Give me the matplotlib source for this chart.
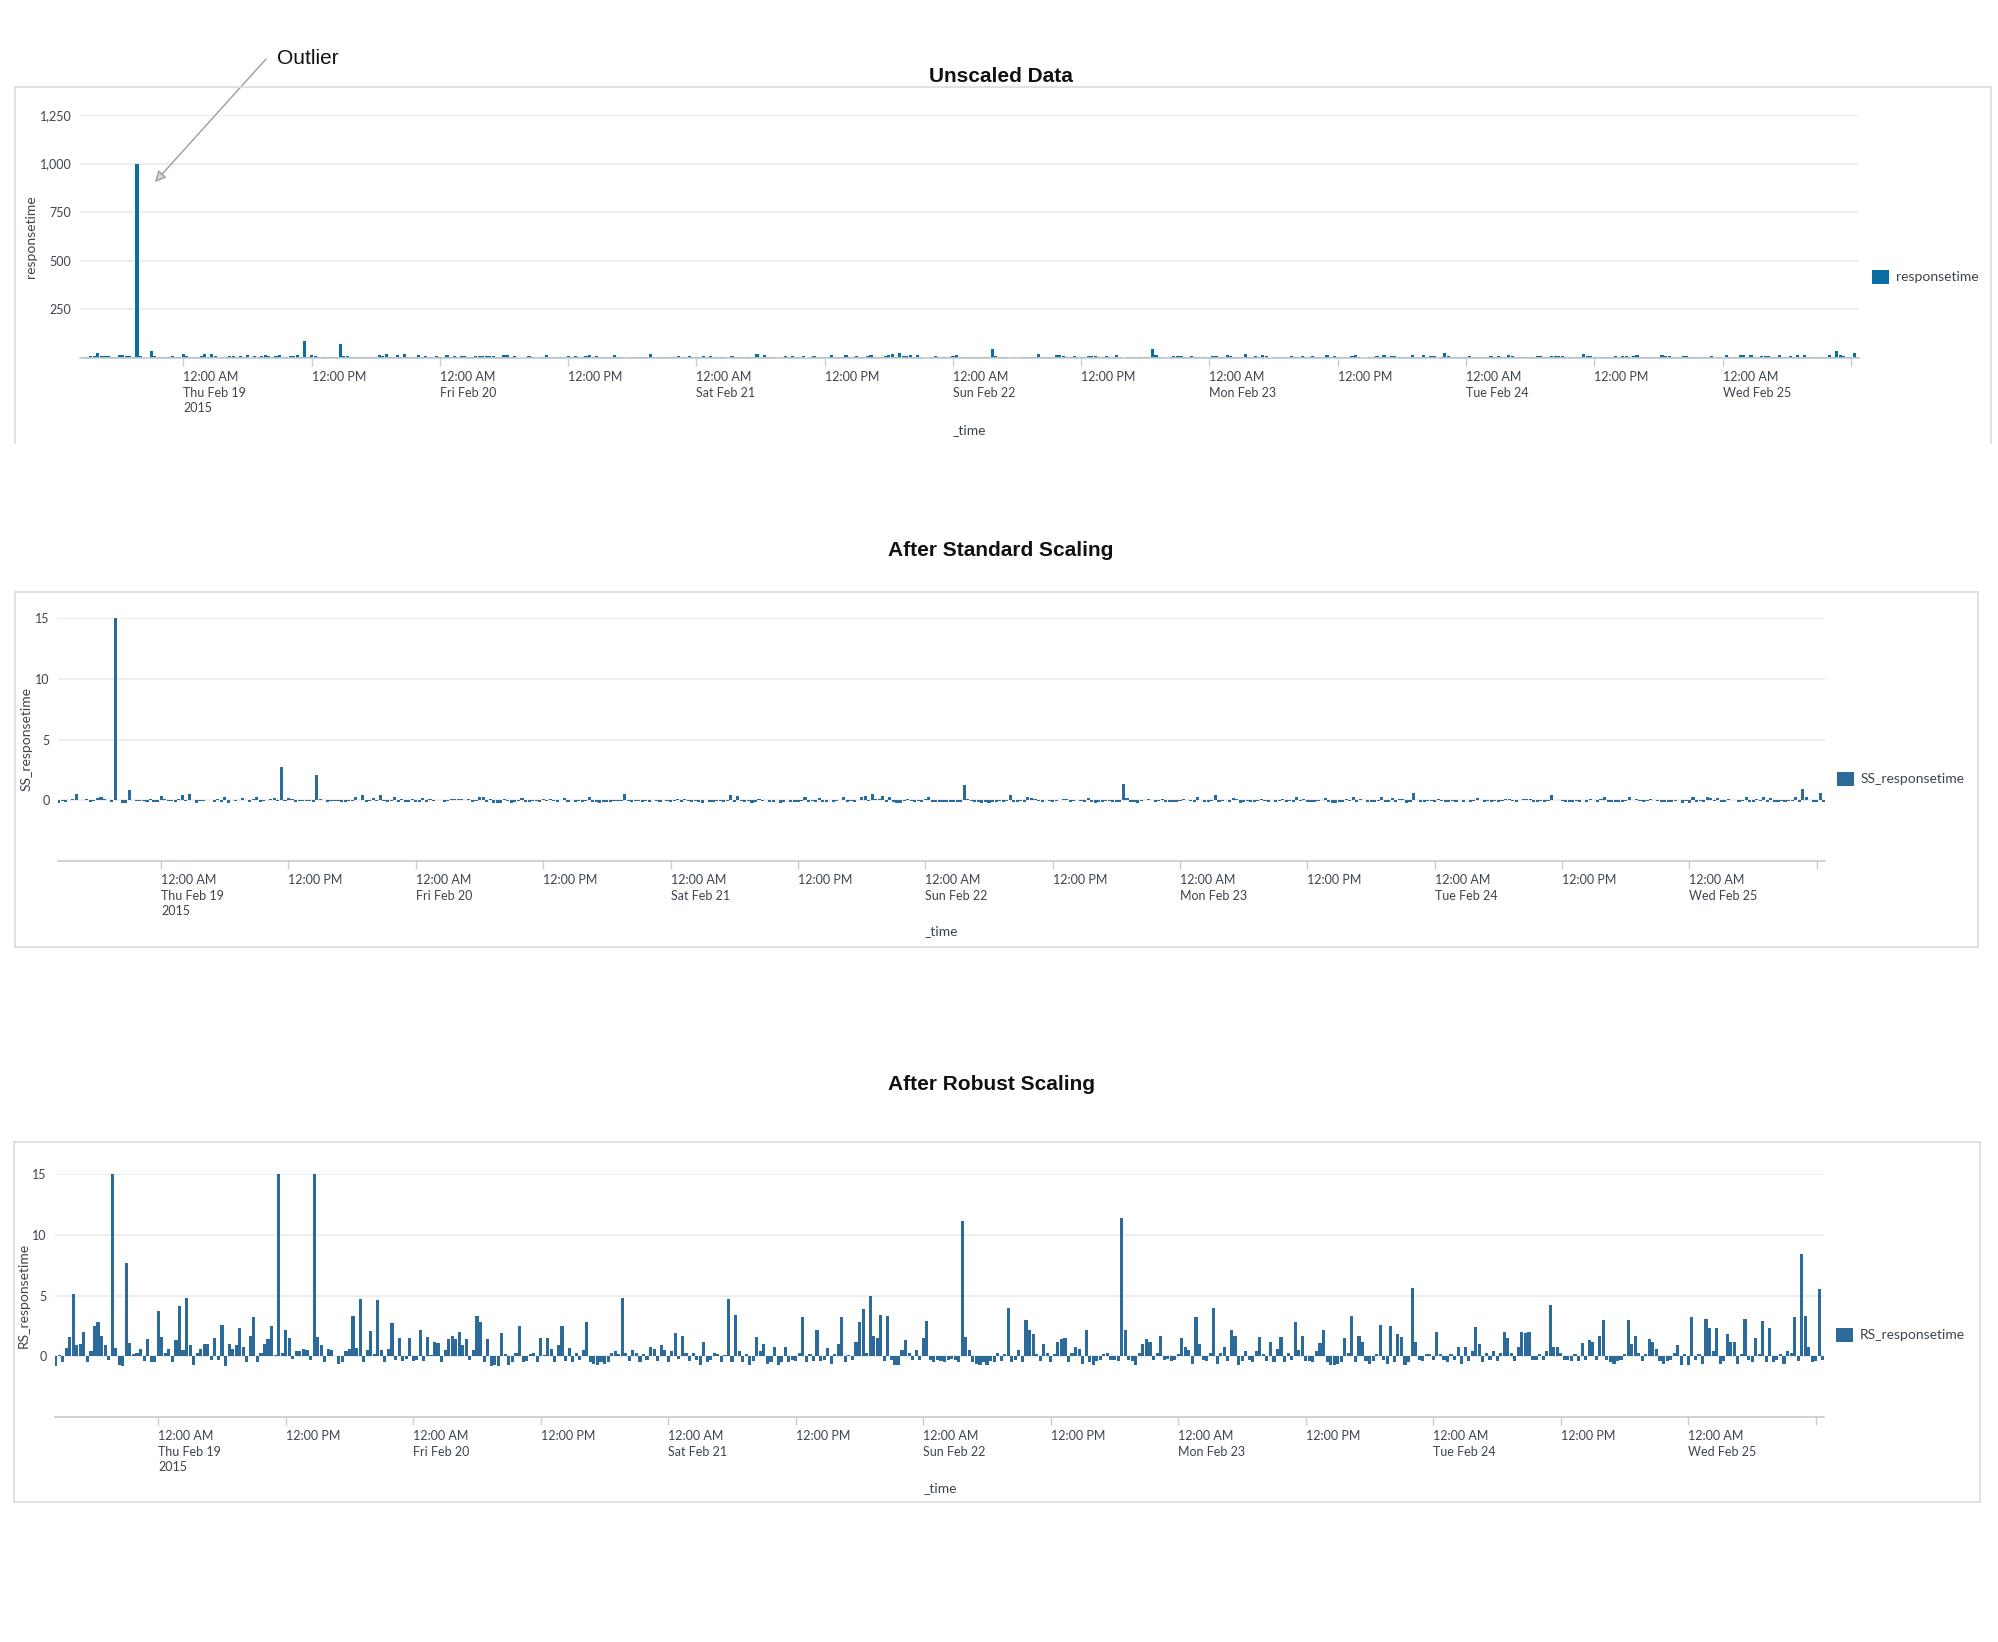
import datetime as dt
import matplotlib
matplotlib.use("Agg")
import matplotlib.pyplot as plt
import matplotlib.dates as mdates
from matplotlib.patches import Rectangle
from matplotlib.lines import Line2D
from matplotlib.ticker import FuncFormatter

# ---------------- data (20-minute bins starting Feb 18 2015 14:20) ----------------
START = dt.datetime(2015, 2, 18, 14, 20)
STEP_MINUTES = 20

responsetime = [
    2, 5, 3, 8, 11, 24, 8, 9, 12, 3, 7, 14, 15, 11, 8, 4, 1000, 8, 2, 2,
    34, 9, 6, 6, 7, 4, 10, 3, 3, 19, 11, 6, 7, 3, 10, 20, 7, 23, 8, 2,
    6, 7, 9, 9, 4, 11, 4, 15, 2, 9, 7, 8, 14, 8, 3, 11, 17, 3, 6, 9,
    10, 14, 5, 90, 6, 13, 11, 4, 7, 7, 7, 7, 4, 70, 11, 8, 3, 7, 7, 5,
    3, 3, 7, 7, 17, 8, 22, 3, 7, 13, 6, 22, 7, 3, 7, 15, 4, 11, 4, 4,
    11, 4, 4, 13, 4, 11, 5, 9, 9, 3, 7, 10, 11, 10, 12, 8, 10, 4, 7, 17,
    15, 3, 10, 2, 2, 2, 12, 6, 2, 3, 6, 14, 3, 4, 6, 6, 3, 11, 5, 11,
    7, 3, 8, 14, 4, 8, 3, 6, 4, 7, 15, 3, 3, 2, 3, 3, 3, 6, 7, 6,
    23, 6, 4, 7, 6, 3, 6, 4, 8, 7, 4, 8, 7, 3, 7, 12, 4, 11, 6, 4,
    6, 4, 2, 9, 3, 4, 6, 6, 3, 5, 22, 3, 18, 7, 3, 6, 2, 4, 11, 7,
    9, 3, 3, 8, 2, 3, 8, 3, 4, 4, 6, 17, 3, 6, 4, 13, 4, 4, 8, 3,
    6, 9, 17, 3, 5, 4, 9, 15, 19, 6, 24, 11, 11, 18, 4, 17, 4, 2, 2, 7,
    10, 6, 4, 7, 4, 11, 16, 4, 3, 4, 4, 3, 4, 4, 4, 3, 46, 11, 7, 3,
    3, 2, 3, 2, 4, 3, 6, 4, 6, 20, 3, 4, 7, 3, 16, 13, 12, 6, 4, 9,
    6, 3, 6, 9, 10, 11, 3, 6, 8, 7, 3, 13, 3, 2, 4, 4, 6, 6, 4, 4,
    4, 47, 13, 4, 4, 2, 6, 9, 10, 9, 4, 6, 11, 4, 4, 4, 4, 6, 11, 8,
    7, 3, 17, 9, 4, 4, 6, 20, 3, 6, 8, 4, 13, 11, 2, 4, 7, 4, 3, 7,
    11, 6, 4, 9, 3, 7, 11, 3, 6, 4, 15, 7, 11, 4, 4, 3, 7, 9, 13, 3,
    2, 2, 3, 3, 11, 6, 17, 3, 11, 9, 4, 3, 4, 6, 15, 4, 3, 14, 3, 12,
    11, 2, 3, 26, 9, 4, 4, 6, 6, 4, 12, 6, 4, 3, 6, 4, 8, 3, 8, 4,
    7, 14, 9, 3, 6, 4, 7, 4, 6, 12, 11, 6, 4, 8, 12, 12, 12, 4, 4, 6,
    4, 7, 21, 8, 8, 6, 4, 4, 4, 6, 4, 9, 4, 10, 9, 4, 11, 16, 4, 3,
    3, 4, 4, 6, 16, 9, 11, 6, 4, 6, 10, 9, 7, 4, 3, 4, 4, 6, 8, 2,
    6, 2, 17, 4, 6, 3, 17, 14, 7, 14, 3, 4, 12, 9, 9, 3, 6, 17, 4, 3,
    11, 6, 16, 3, 14, 3, 4, 6, 3, 7, 6, 17, 4, 36, 17, 8, 3, 4, 25, 4,
]

ss_responsetime = [
    -0.20, -0.10, -0.17, 0.00, 0.10, 0.53, 0.00, 0.03, 0.13, -0.17, -0.03, 0.20, 0.23, 0.10, 0.00, -0.13, 33.07, 0.00, -0.20, -0.20,
    0.87, 0.03, -0.07, -0.07, -0.03, -0.13, 0.07, -0.17, -0.17, 0.37, 0.10, -0.07, -0.03, -0.17, 0.07, 0.40, -0.03, 0.50, 0.00, -0.20,
    -0.07, -0.03, 0.03, 0.03, -0.13, 0.10, -0.13, 0.23, -0.20, 0.03, -0.03, 0.00, 0.20, 0.00, -0.17, 0.10, 0.30, -0.17, -0.07, 0.03,
    0.07, 0.20, -0.10, 2.73, -0.07, 0.17, 0.10, -0.13, -0.03, -0.03, -0.03, -0.03, -0.13, 2.07, 0.10, 0.00, -0.17, -0.03, -0.03, -0.10,
    -0.17, -0.17, -0.03, -0.03, 0.30, 0.00, 0.47, -0.17, -0.03, 0.17, -0.07, 0.47, -0.03, -0.17, -0.03, 0.23, -0.13, 0.10, -0.13, -0.13,
    0.10, -0.13, -0.13, 0.17, -0.13, 0.10, -0.10, 0.03, 0.03, -0.17, -0.03, 0.07, 0.10, 0.07, 0.13, 0.00, 0.07, -0.13, -0.03, 0.30,
    0.23, -0.17, 0.07, -0.20, -0.20, -0.20, 0.13, -0.07, -0.20, -0.17, -0.07, 0.20, -0.17, -0.13, -0.07, -0.07, -0.17, 0.10, -0.10, 0.10,
    -0.03, -0.17, 0.00, 0.20, -0.13, 0.00, -0.17, -0.07, -0.13, -0.03, 0.23, -0.17, -0.17, -0.20, -0.17, -0.17, -0.17, -0.07, -0.03, -0.07,
    0.50, -0.07, -0.13, -0.03, -0.07, -0.17, -0.07, -0.13, 0.00, -0.03, -0.13, 0.00, -0.03, -0.17, -0.03, 0.13, -0.13, 0.10, -0.07, -0.13,
    -0.07, -0.13, -0.20, 0.03, -0.17, -0.13, -0.07, -0.07, -0.17, -0.10, 0.47, -0.17, 0.33, -0.03, -0.17, -0.07, -0.20, -0.13, 0.10, -0.03,
    0.03, -0.17, -0.17, 0.00, -0.20, -0.17, 0.00, -0.17, -0.13, -0.13, -0.07, 0.30, -0.17, -0.07, -0.13, 0.17, -0.13, -0.13, 0.00, -0.17,
    -0.07, 0.03, 0.30, -0.17, -0.10, -0.13, 0.03, 0.23, 0.37, -0.07, 0.53, 0.10, 0.10, 0.33, -0.13, 0.30, -0.13, -0.20, -0.20, -0.03,
    0.07, -0.07, -0.13, -0.03, -0.13, 0.10, 0.27, -0.13, -0.17, -0.13, -0.13, -0.17, -0.13, -0.13, -0.13, -0.17, 1.27, 0.10, -0.03, -0.17,
    -0.17, -0.20, -0.17, -0.20, -0.13, -0.17, -0.07, -0.13, -0.07, 0.40, -0.17, -0.13, -0.03, -0.17, 0.27, 0.17, 0.13, -0.07, -0.13, 0.03,
    -0.07, -0.17, -0.07, 0.03, 0.07, 0.10, -0.17, -0.07, 0.00, -0.03, -0.17, 0.17, -0.17, -0.20, -0.13, -0.13, -0.07, -0.07, -0.13, -0.13,
    -0.13, 1.30, 0.17, -0.13, -0.13, -0.20, -0.07, 0.03, 0.07, 0.03, -0.13, -0.07, 0.10, -0.13, -0.13, -0.13, -0.13, -0.07, 0.10, 0.00,
    -0.03, -0.17, 0.30, 0.03, -0.13, -0.13, -0.07, 0.40, -0.17, -0.07, 0.00, -0.13, 0.17, 0.10, -0.20, -0.13, -0.03, -0.13, -0.17, -0.03,
    0.10, -0.07, -0.13, 0.03, -0.17, -0.03, 0.10, -0.17, -0.07, -0.13, 0.23, -0.03, 0.10, -0.13, -0.13, -0.17, -0.03, 0.03, 0.17, -0.17,
    -0.20, -0.20, -0.17, -0.17, 0.10, -0.07, 0.30, -0.17, 0.10, 0.03, -0.13, -0.17, -0.13, -0.07, 0.23, -0.13, -0.17, 0.20, -0.17, 0.13,
    0.10, -0.20, -0.17, 0.60, 0.03, -0.13, -0.13, -0.07, -0.07, -0.13, 0.13, -0.07, -0.13, -0.17, -0.07, -0.13, 0.00, -0.17, 0.00, -0.13,
    -0.03, 0.20, 0.03, -0.17, -0.07, -0.13, -0.03, -0.13, -0.07, 0.13, 0.10, -0.07, -0.13, 0.00, 0.13, 0.13, 0.13, -0.13, -0.13, -0.07,
    -0.13, -0.03, 0.43, 0.00, 0.00, -0.07, -0.13, -0.13, -0.13, -0.07, -0.13, 0.03, -0.13, 0.07, 0.03, -0.13, 0.10, 0.27, -0.13, -0.17,
    -0.17, -0.13, -0.13, -0.07, 0.27, 0.03, 0.10, -0.07, -0.13, -0.07, 0.07, 0.03, -0.03, -0.13, -0.17, -0.13, -0.13, -0.07, 0.00, -0.20,
    -0.07, -0.20, 0.30, -0.13, -0.07, -0.17, 0.30, 0.20, -0.03, 0.20, -0.17, -0.13, 0.13, 0.03, 0.03, -0.17, -0.07, 0.30, -0.13, -0.17,
    0.10, -0.07, 0.27, -0.17, 0.20, -0.17, -0.13, -0.07, -0.17, -0.03, -0.07, 0.30, -0.13, 0.93, 0.30, 0.00, -0.17, -0.13, 0.57, -0.13,
]

rs_responsetime = [
    -0.8, 0.1, -0.5, 0.7, 1.6, 5.1, 0.9, 1.0, 2.0, -0.5, 0.4, 2.5, 2.8, 1.7, 0.9, -0.3, 268.9, 0.7, -0.7, -0.8,
    7.7, 1.1, 0.2, 0.3, 0.6, -0.4, 1.4, -0.5, -0.5, 3.7, 1.6, 0.3, 0.6, -0.5, 1.3, 4.1, 0.5, 4.8, 0.9, -0.7,
    0.3, 0.6, 1.0, 1.0, -0.3, 1.5, -0.3, 2.6, -0.8, 1.0, 0.6, 0.9, 2.3, 0.8, -0.5, 1.7, 3.2, -0.5, 0.3, 1.0,
    1.4, 2.5, 0.1, 23.0, 0.3, 2.2, 1.5, -0.2, 0.4, 0.4, 0.6, 0.5, -0.3, 17.6, 1.6, 0.9, -0.5, 0.6, 0.5, 0.0,
    -0.6, -0.5, 0.4, 0.6, 3.3, 0.7, 4.7, -0.5, 0.5, 2.1, 0.2, 4.6, 0.5, -0.5, 0.6, 2.7, -0.3, 1.5, -0.4, -0.2,
    1.5, -0.4, -0.3, 2.2, -0.4, 1.6, 0.1, 1.2, 1.1, -0.5, 0.5, 1.4, 1.7, 1.4, 2.0, 0.9, 1.4, -0.3, 0.5, 3.3,
    2.8, -0.5, 1.4, -0.8, -0.7, -0.8, 1.9, 0.2, -0.7, -0.5, 0.3, 2.5, -0.5, -0.4, 0.2, 0.3, -0.5, 1.5, 0.1, 1.5,
    0.6, -0.5, 0.9, 2.5, -0.4, 0.7, -0.5, 0.3, -0.3, 0.5, 2.8, -0.5, -0.6, -0.7, -0.5, -0.6, -0.5, 0.3, 0.4, 0.2,
    4.8, 0.3, -0.4, 0.5, 0.3, -0.5, 0.2, -0.3, 0.8, 0.6, -0.4, 0.9, 0.5, -0.5, 0.4, 1.9, -0.2, 1.7, 0.3, -0.4,
    0.3, -0.3, -0.7, 1.2, -0.5, -0.3, 0.3, 0.2, -0.5, 0.1, 4.7, -0.5, 3.4, 0.4, -0.5, 0.2, -0.7, -0.4, 1.6, 0.4,
    1.0, -0.6, -0.5, 0.8, -0.7, -0.5, 0.8, -0.5, -0.3, -0.4, 0.3, 3.2, -0.5, 0.2, -0.4, 2.2, -0.4, -0.3, 0.7, -0.6,
    0.2, 1.0, 3.2, -0.5, 0.1, -0.3, 1.2, 2.8, 3.9, 0.3, 5.0, 1.7, 1.5, 3.4, -0.4, 3.3, -0.3, -0.7, -0.7, 0.5,
    1.3, 0.3, -0.3, 0.5, -0.3, 1.5, 2.9, -0.3, -0.5, -0.3, -0.4, -0.5, -0.3, -0.2, -0.3, -0.5, 11.1, 1.6, 0.5, -0.5,
    -0.6, -0.7, -0.5, -0.7, -0.4, -0.5, 0.3, -0.4, 0.2, 4.0, -0.5, -0.3, 0.5, -0.5, 3.0, 2.2, 1.8, 0.2, -0.4, 1.0,
    0.3, -0.5, 0.2, 1.2, 1.4, 1.5, -0.5, 0.3, 0.8, 0.6, -0.6, 2.2, -0.5, -0.7, -0.4, -0.3, 0.2, 0.3, -0.3, -0.3,
    -0.4, 11.4, 2.2, -0.3, -0.4, -0.7, 0.3, 1.0, 1.4, 1.2, -0.3, 0.3, 1.7, -0.3, -0.2, -0.4, -0.3, 0.2, 1.5, 0.8,
    0.5, -0.6, 3.2, 1.0, -0.3, -0.4, 0.3, 4.0, -0.6, 0.3, 0.8, -0.4, 2.2, 1.7, -0.7, -0.4, 0.4, -0.3, -0.5, 0.4,
    1.6, 0.2, -0.4, 1.2, -0.5, 0.6, 1.6, -0.5, 0.3, -0.3, 2.8, 0.5, 1.7, -0.4, -0.4, -0.5, 0.4, 1.1, 2.2, -0.5,
    -0.7, -0.7, -0.6, -0.5, 1.5, 0.3, 3.3, -0.5, 1.7, 1.2, -0.4, -0.6, -0.4, 0.2, 2.6, -0.3, -0.6, 2.5, -0.5, 1.8,
    1.6, -0.7, -0.5, 5.6, 1.2, -0.3, -0.4, 0.2, 0.2, -0.3, 2.0, 0.2, -0.3, -0.5, 0.2, -0.3, 0.8, -0.6, 0.8, -0.4,
    0.4, 2.4, 1.0, -0.5, 0.3, -0.3, 0.4, -0.4, 0.3, 2.0, 1.5, 0.3, -0.4, 0.8, 2.0, 1.9, 2.0, -0.3, -0.3, 0.2,
    -0.3, 0.4, 4.2, 0.8, 0.8, 0.3, -0.3, -0.3, -0.4, 0.2, -0.4, 1.1, -0.3, 1.3, 1.2, -0.3, 1.7, 3.0, -0.3, -0.5,
    -0.6, -0.4, -0.3, 0.2, 3.0, 1.0, 1.7, 0.3, -0.4, 0.2, 1.4, 1.2, 0.6, -0.4, -0.6, -0.4, -0.3, 0.3, 0.9, -0.7,
    0.2, -0.7, 3.2, -0.3, 0.2, -0.6, 3.1, 2.3, 0.4, 2.3, -0.6, -0.4, 1.8, 1.2, 1.2, -0.6, 0.2, 3.1, -0.3, -0.5,
    1.5, 0.2, 2.9, -0.5, 2.3, -0.5, -0.3, 0.2, -0.6, 0.4, 0.3, 3.2, -0.4, 8.4, 3.3, 0.8, -0.5, -0.4, 5.5, -0.3,
]

tick_labels = [
    "12:00 AM\nThu Feb 19\n2015", "12:00 PM",
    "12:00 AM\nFri Feb 20", "12:00 PM",
    "12:00 AM\nSat Feb 21", "12:00 PM",
    "12:00 AM\nSun Feb 22", "12:00 PM",
    "12:00 AM\nMon Feb 23", "12:00 PM",
    "12:00 AM\nTue Feb 24", "12:00 PM",
    "12:00 AM\nWed Feb 25", "",
]
FIRST_TICK = dt.datetime(2015, 2, 19, 0, 0)

# ---------------- styling ----------------
W, H = 1999, 1642
fig = plt.figure(figsize=(W / 100, H / 100), dpi=100)
fig.patch.set_facecolor("white")

TXT = "#3c444d"
GRID = "#e9ecef"
AXLINE = "#c6ccd2"
BORDER = "#dcdcdc"
UI_FONT = ["Lato", "DejaVu Sans"]
TITLE_FONT = ["Liberation Sans", "DejaVu Sans"]

times = [START + dt.timedelta(minutes=STEP_MINUTES * i) for i in range(len(rs_responsetime))]
xnum = mdates.date2num(times)
bar_w = STEP_MINUTES / 1440.0 * 0.88
tick_times = [FIRST_TICK + dt.timedelta(hours=12 * k) for k in range(len(tick_labels))]
tick_num = mdates.date2num(tick_times)
x_left = mdates.date2num(dt.datetime(2015, 2, 18, 14, 17))
x_right = mdates.date2num(dt.datetime(2015, 2, 25, 12, 46))


def fx(px):
    return px / W


def fy(py):
    return 1 - py / H


def make_axes(left, right, top, bottom):
    return fig.add_axes([fx(left), fy(bottom), fx(right) - fx(left), (bottom - top) / H])


def style_axes(ax, yticks, fmt=None):
    ax.set_xlim(x_left, x_right)
    for s in ("top", "right", "left"):
        ax.spines[s].set_visible(False)
    ax.spines["bottom"].set_color(AXLINE)
    ax.spines["bottom"].set_linewidth(1.2)
    ax.set_yticks(yticks)
    if fmt is not None:
        ax.yaxis.set_major_formatter(FuncFormatter(fmt))
    ax.yaxis.grid(True, color=GRID, linewidth=1.2)
    ax.set_axisbelow(True)
    ax.set_xticks(tick_num)
    ax.set_xticklabels(tick_labels, ha="left", linespacing=1.35, family=UI_FONT)
    ax.tick_params(axis="x", length=6, width=1, color=AXLINE, pad=3.5,
                   labelsize=9, labelcolor=TXT)
    ax.tick_params(axis="y", length=0, pad=5.8, labelsize=9, labelcolor=TXT)
    for lab in ax.get_yticklabels():
        lab.set_family(UI_FONT)


def panel_box(left, top, right, bottom, draw_bottom=True):
    kw = dict(color=BORDER, linewidth=1.2, transform=fig.transFigure)
    fig.add_artist(Line2D([fx(left), fx(right)], [fy(top), fy(top)], **kw))
    fig.add_artist(Line2D([fx(left), fx(left)], [fy(top), fy(bottom)], **kw))
    fig.add_artist(Line2D([fx(right), fx(right)], [fy(top), fy(bottom)], **kw))
    if draw_bottom:
        fig.add_artist(Line2D([fx(left), fx(right)], [fy(bottom), fy(bottom)], **kw))


def legend_item(x, y, label, color):
    fig.add_artist(Rectangle((fx(x), fy(y + 7)), 17 / W, 14 / H, transform=fig.transFigure,
                             facecolor=color, edgecolor="none"))
    fig.text(fx(x + 24), fy(y), label, ha="left", va="center", fontsize=10,
             color=TXT, family=UI_FONT)


def ylabel(x, y, label):
    fig.text(fx(x), fy(y), label, rotation=90, ha="center", va="center",
             fontsize=10, color=TXT, family=UI_FONT)


def xlabel(x, y, label):
    fig.text(fx(x), fy(y), label, ha="center", va="center", fontsize=10,
             color=TXT, family=UI_FONT)


def title(x, y, label):
    fig.text(fx(x), fy(y), label, ha="center", va="center", fontsize=15,
             fontweight="bold", color="#111111", family=TITLE_FONT)


# ---------------- panel 1: unscaled ----------------
C1 = "#0b6ea3"
panel_box(15, 87, 1991, 443, draw_bottom=False)
ax1 = make_axes(79.5, 1859, 115, 358)
ax1.bar(xnum, responsetime, width=bar_w, color=C1, linewidth=0)
ax1.set_ylim(0, 1250)
style_axes(ax1, [250, 500, 750, 1000, 1250], fmt=lambda v, p: f"{int(v):,}")
title(1001, 76, "Unscaled Data")
ylabel(31, 237, "responsetime")
xlabel(969, 430, "_time")
legend_item(1872, 277, "responsetime", C1)

fig.text(fx(277), fy(58), "Outlier", ha="left", va="center", fontsize=15,
         color="#111111", family=TITLE_FONT)
ax1.annotate("", xy=(fx(155), fy(182)), xycoords="figure fraction",
             xytext=(fx(266), fy(59)), textcoords="figure fraction",
             arrowprops=dict(arrowstyle="-|>", color="#9c9c9c", lw=1.0,
                             mutation_scale=16, shrinkA=0, shrinkB=0,
                             fc="#d6d6d6"),
             annotation_clip=False)

# ---------------- panel 2: standard scaling ----------------
C2 = "#2c6a9a"
panel_box(15, 592, 1978, 947)
ax2 = make_axes(58, 1825, 618, 861)
ax2.bar(xnum, ss_responsetime, width=bar_w, color=C2, linewidth=0)
ax2.set_ylim(-5, 15)
style_axes(ax2, [0, 5, 10, 15])
title(1001, 551, "After Standard Scaling")
ylabel(27, 739, "SS_responsetime")
xlabel(941, 931, "_time")
legend_item(1837, 779, "SS_responsetime", C2)

# ---------------- panel 3: robust scaling ----------------
panel_box(14, 1142, 1980, 1502)
ax3 = make_axes(55, 1824, 1174, 1417)
ax3.bar(xnum, rs_responsetime, width=bar_w, color=C2, linewidth=0)
ax3.set_ylim(-5, 15)
style_axes(ax3, [0, 5, 10, 15])
title(992, 1085, "After Robust Scaling")
ylabel(24, 1295, "RS_responsetime")
xlabel(940, 1488, "_time")
legend_item(1836, 1335, "RS_responsetime", C2)

fig.savefig("out.png", dpi=100, facecolor="white")
